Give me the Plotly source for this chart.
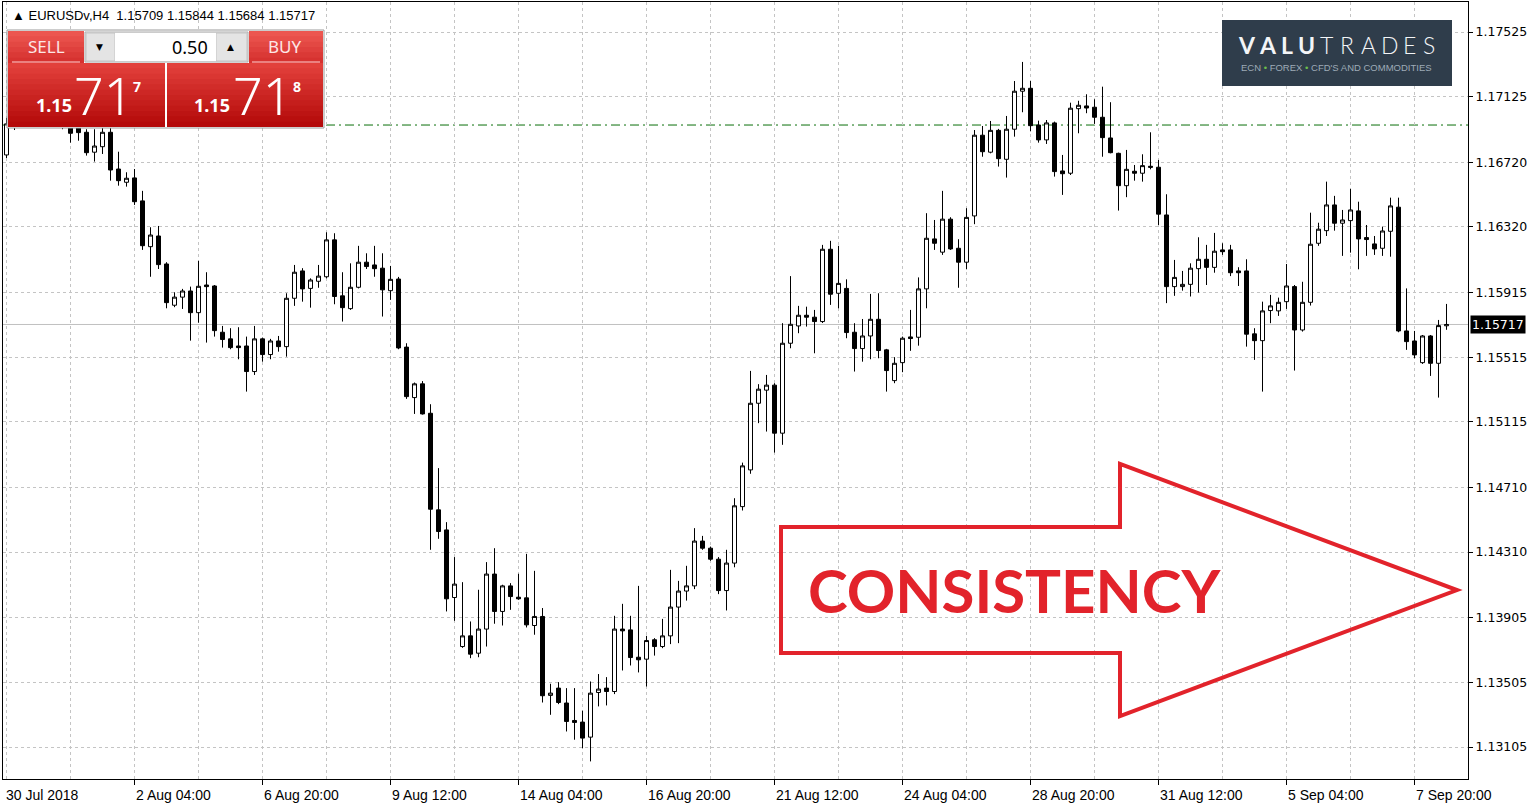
import plotly.graph_objects as go

# ---------------- data ----------------
bar_index = list(range(181))

opens = [1.16765, 1.16957, 1.17105, 1.17136, 1.17080, 1.17117, 1.17055, 1.16994, 1.16969, 1.16932,
         1.16905, 1.16782, 1.16816, 1.16905, 1.16678, 1.16596, 1.16623, 1.16481, 1.16198, 1.16264,
         1.16091, 1.15836, 1.15886, 1.15924, 1.15790, 1.15961, 1.15955, 1.15669, 1.15628, 1.15584,
         1.15584, 1.15426, 1.15628, 1.15531, 1.15615, 1.15580, 1.15879, 1.16048, 1.15940, 1.15984,
         1.16012, 1.16240, 1.15894, 1.15815, 1.15947, 1.16102, 1.16085, 1.16065, 1.15926, 1.15998,
         1.15577, 1.15265, 1.15350, 1.15168, 1.14571, 1.14447, 1.14029, 1.13726, 1.13792, 1.13685,
         1.13834, 1.14174, 1.13943, 1.14101, 1.14031, 1.14027, 1.13856, 1.13912, 1.13424, 1.13469,
         1.13377, 1.13269, 1.13259, 1.13166, 1.13442, 1.13469, 1.13448, 1.13834, 1.13829, 1.13660,
         1.13648, 1.13768, 1.13726, 1.13792, 1.13970, 1.14069, 1.14101, 1.14378, 1.14334, 1.14266,
         1.14072, 1.14242, 1.14591, 1.14818, 1.15230, 1.15311, 1.15342, 1.15045, 1.15601, 1.15708,
         1.15774, 1.15762, 1.15735, 1.16182, 1.15910, 1.15940, 1.15669, 1.15568, 1.15646, 1.15749,
         1.15560, 1.15370, 1.15481, 1.15640, 1.15638, 1.15937, 1.16246, 1.16164, 1.16368, 1.16188,
         1.16102, 1.16388, 1.16887, 1.16782, 1.16917, 1.16738, 1.16924, 1.17159, 1.17177, 1.16950,
         1.16858, 1.16963, 1.16666, 1.16652, 1.17051, 1.17068, 1.17060, 1.16998, 1.16870, 1.16775,
         1.16575, 1.16664, 1.16652, 1.16695, 1.16689, 1.16394, 1.15951, 1.15951, 1.15965, 1.16062,
         1.16120, 1.16070, 1.16178, 1.16178, 1.16048, 1.16048, 1.15659, 1.15617, 1.15803, 1.15801,
         1.15858, 1.15951, 1.15683, 1.15854, 1.16219, 1.16297, 1.16456, 1.16343, 1.16359, 1.16419,
         1.16254, 1.16215, 1.16188, 1.16293, 1.16442, 1.15677, 1.15615, 1.15481, 1.15646, 1.15477,
         1.15709]

highs = [1.16994, 1.17080, 1.17179, 1.17198, 1.17154, 1.17167, 1.17130, 1.17074, 1.17012, 1.16957,
         1.16924, 1.16924, 1.16938, 1.16932, 1.16785, 1.16658, 1.16678, 1.16543, 1.16318, 1.16326,
         1.16102, 1.15916, 1.15937, 1.15951, 1.16110, 1.16040, 1.15961, 1.15708, 1.15694, 1.15700,
         1.15642, 1.15708, 1.15636, 1.15628, 1.15646, 1.15910, 1.16085, 1.16065, 1.16002, 1.16085,
         1.16287, 1.16281, 1.16040, 1.16095, 1.16203, 1.16157, 1.16203, 1.16157, 1.16079, 1.16011,
         1.15601, 1.15358, 1.15367, 1.15224, 1.14829, 1.14495, 1.14279, 1.14124, 1.13881, 1.14077,
         1.14248, 1.14334, 1.14108, 1.14118, 1.14176, 1.14299, 1.14194, 1.13964, 1.13496, 1.13506,
         1.13469, 1.13469, 1.13329, 1.13510, 1.13556, 1.13537, 1.13916, 1.13990, 1.13916, 1.14101,
         1.13792, 1.13778, 1.13897, 1.14200, 1.14132, 1.14225, 1.14458, 1.14410, 1.14344, 1.14279,
         1.14324, 1.14643, 1.14863, 1.15430, 1.15348, 1.15405, 1.15354, 1.15725, 1.16016, 1.15832,
         1.15827, 1.15807, 1.16209, 1.16234, 1.16203, 1.15996, 1.15725, 1.15751, 1.15906, 1.15910,
         1.15566, 1.15515, 1.15642, 1.15807, 1.16008, 1.16405, 1.16363, 1.16543, 1.16380, 1.16244,
         1.16436, 1.16919, 1.16944, 1.16975, 1.16926, 1.17006, 1.17222, 1.17340, 1.17222, 1.16977,
         1.16981, 1.16971, 1.16765, 1.17088, 1.17100, 1.17140, 1.17109, 1.17187, 1.17091, 1.16779,
         1.16796, 1.16703, 1.16769, 1.16905, 1.16734, 1.16522, 1.16116, 1.16048, 1.16095, 1.16256,
         1.16209, 1.16283, 1.16219, 1.16209, 1.16071, 1.16120, 1.15694, 1.15858, 1.15900, 1.15883,
         1.16091, 1.15961, 1.15981, 1.16408, 1.16346, 1.16600, 1.16512, 1.16425, 1.16555, 1.16476,
         1.16332, 1.16264, 1.16322, 1.16501, 1.16501, 1.15940, 1.15677, 1.15652, 1.15652, 1.15745,
         1.15844]

lows = [1.16746, 1.16919, 1.17043, 1.17055, 1.17012, 1.17031, 1.16969, 1.16924, 1.16841, 1.16853,
        1.16761, 1.16724, 1.16771, 1.16606, 1.16575, 1.16569, 1.16456, 1.16178, 1.16012, 1.16060,
        1.15817, 1.15824, 1.15813, 1.15617, 1.15728, 1.15605, 1.15642, 1.15574, 1.15564, 1.15502,
        1.15302, 1.15405, 1.15487, 1.15502, 1.15549, 1.15518, 1.15832, 1.15858, 1.15821, 1.15944,
        1.16002, 1.15842, 1.15735, 1.15807, 1.15940, 1.16060, 1.16012, 1.15766, 1.15869, 1.15564,
        1.15257, 1.15164, 1.15160, 1.14324, 1.14392, 1.13943, 1.13885, 1.13718, 1.13654, 1.13660,
        1.13726, 1.13867, 1.13856, 1.13953, 1.14015, 1.13844, 1.13799, 1.13380, 1.13304, 1.13370,
        1.13201, 1.13150, 1.13098, 1.13016, 1.13356, 1.13362, 1.13432, 1.13578, 1.13609, 1.13566,
        1.13479, 1.13670, 1.13716, 1.13741, 1.13747, 1.14010, 1.14081, 1.14324, 1.14256, 1.14050,
        1.13949, 1.14216, 1.14567, 1.14794, 1.15107, 1.15055, 1.14925, 1.14973, 1.15570, 1.15663,
        1.15704, 1.15539, 1.15726, 1.15838, 1.15817, 1.15632, 1.15426, 1.15487, 1.15502, 1.15508,
        1.15302, 1.15354, 1.15422, 1.15554, 1.15586, 1.15817, 1.16178, 1.16147, 1.16178, 1.15944,
        1.16058, 1.16337, 1.16754, 1.16775, 1.16693, 1.16625, 1.16878, 1.17029, 1.16911, 1.16841,
        1.16833, 1.16631, 1.16518, 1.16641, 1.16899, 1.17023, 1.16957, 1.16754, 1.16775, 1.16421,
        1.16504, 1.16606, 1.16600, 1.16676, 1.16332, 1.15849, 1.15894, 1.15926, 1.15890, 1.15914,
        1.15961, 1.16037, 1.16147, 1.16016, 1.15955, 1.15580, 1.15498, 1.15302, 1.15725, 1.15770,
        1.15813, 1.15432, 1.15673, 1.15834, 1.16203, 1.16264, 1.16297, 1.16141, 1.16161, 1.16058,
        1.16141, 1.16147, 1.16141, 1.16136, 1.15669, 1.15560, 1.15508, 1.15473, 1.15399, 1.15265,
        1.15684]

closes = [1.16957, 1.17043, 1.17136, 1.17080, 1.17117, 1.17055, 1.16994, 1.16969, 1.16899, 1.16903,
          1.16779, 1.16820, 1.16905, 1.16672, 1.16606, 1.16621, 1.16476, 1.16204, 1.16270, 1.16087,
          1.15852, 1.15886, 1.15924, 1.15790, 1.15953, 1.15951, 1.15679, 1.15624, 1.15574, 1.15574,
          1.15426, 1.15628, 1.15531, 1.15615, 1.15580, 1.15879, 1.16040, 1.15937, 1.15992, 1.16016,
          1.16240, 1.15890, 1.15821, 1.15947, 1.16102, 1.16075, 1.16062, 1.15931, 1.15996, 1.15572,
          1.15271, 1.15350, 1.15164, 1.14575, 1.14437, 1.14021, 1.14112, 1.13792, 1.13679, 1.13834,
          1.14174, 1.13943, 1.14101, 1.14035, 1.14021, 1.13860, 1.13912, 1.13422, 1.13438, 1.13380,
          1.13263, 1.13257, 1.13160, 1.13438, 1.13463, 1.13448, 1.13834, 1.13823, 1.13658, 1.13644,
          1.13763, 1.13726, 1.13792, 1.13970, 1.14069, 1.14101, 1.14378, 1.14334, 1.14266, 1.14072,
          1.14242, 1.14596, 1.14843, 1.15230, 1.15317, 1.15342, 1.15045, 1.15601, 1.15718, 1.15774,
          1.15762, 1.15735, 1.16182, 1.15904, 1.15971, 1.15667, 1.15568, 1.15646, 1.15749, 1.15556,
          1.15432, 1.15477, 1.15632, 1.15630, 1.15937, 1.16250, 1.16219, 1.16368, 1.16184, 1.16102,
          1.16379, 1.16887, 1.16785, 1.16917, 1.16742, 1.16924, 1.17159, 1.17177, 1.16946, 1.16858,
          1.16963, 1.16662, 1.16649, 1.17054, 1.17072, 1.17055, 1.16998, 1.16872, 1.16779, 1.16575,
          1.16676, 1.16652, 1.16699, 1.16689, 1.16399, 1.15951, 1.16008, 1.15965, 1.16065, 1.16120,
          1.16070, 1.16170, 1.16167, 1.16037, 1.16037, 1.15657, 1.15617, 1.15801, 1.15832, 1.15854,
          1.15955, 1.15683, 1.15854, 1.16213, 1.16306, 1.16456, 1.16343, 1.16363, 1.16425, 1.16246,
          1.16242, 1.16184, 1.16295, 1.16450, 1.15677, 1.15611, 1.15529, 1.15646, 1.15477, 1.15710,
          1.15717]

date_tick_index = [16, 32, 48, 64, 80, 96, 112, 128, 144, 160, 176]
date_tick_text = ["2 Aug 04:00", "6 Aug 20:00", "9 Aug 12:00", "14 Aug 04:00",
                  "16 Aug 20:00", "21 Aug 12:00", "24 Aug 04:00", "28 Aug 20:00",
                  "31 Aug 12:00", "5 Sep 04:00", "7 Sep 20:00"]
first_date_label = "30 Jul 2018"
grid_index = list(range(0, 181, 8))

price_ticks = [1.17525, 1.17125, 1.16720, 1.16320, 1.15915, 1.15515,
               1.15115, 1.14710, 1.14310, 1.13905, 1.13505, 1.13105]
current_price = 1.15717
level_price = 1.16950

header_text = "EURUSDv,H4  1.15709 1.15844 1.15684 1.15717"
lot_text = "0.50"
sell_quote = ("1.15", "71", "7")
buy_quote = ("1.15", "71", "8")
logo_letters = "VALUTRADES"
logo_sub = "ECN <span style='color:#6cbf4a'>•</span> FOREX <span style='color:#6cbf4a'>•</span> CFD'S AND COMMODITIES"
banner_text = "CONSISTENCY"

# ---------------- geometry helpers ----------------
W, H = 1537, 807
ML, MR, MT, MB = 3, 69, 2, 28
PW = W - ML - MR
PH = H - MT - MB
X_OFF = 0.0625  # half-pixel shift so 1px wicks render crisp


def fx(x):
    return (x - ML) / PW


def fy(y):
    return (H - MB - y) / PH


fig = go.Figure()
fig.add_trace(go.Candlestick(
    x=bar_index, open=opens, high=highs, low=lows, close=closes,
    increasing=dict(line=dict(color="black", width=1), fillcolor="white"),
    decreasing=dict(line=dict(color="black", width=1), fillcolor="black"),
    whiskerwidth=0, hoverinfo="skip", showlegend=False,
))

shapes = []
annos = []

# price lines
shapes.append(dict(type="line", xref="paper", x0=0, x1=1, yref="y", y0=current_price, y1=current_price,
                   line=dict(color="#c0c0c0", width=1), layer="below"))
shapes.append(dict(type="line", xref="paper", x0=0, x1=1, yref="y", y0=level_price, y1=level_price,
                   line=dict(color="#0a6e0a", width=1, dash="9px,4px,2px,4px"), layer="below"))


def rect(x0, y0, x1, y1, fill, line=None, lw=0):
    shapes.append(dict(type="rect", xref="paper", yref="paper",
                       x0=fx(x0), x1=fx(x1), y0=fy(y1), y1=fy(y0),
                       fillcolor=fill, line=dict(color=line or fill, width=lw), layer="above"))


def hexrgb(c):
    c = c.lstrip("#")
    return [int(c[i:i + 2], 16) for i in (0, 2, 4)]


def grad(x0, y0, x1, y1, ctop, cbot, n=10):
    a, b = hexrgb(ctop), hexrgb(cbot)
    for k in range(n):
        t = k / (n - 1)
        col = "rgb(%d,%d,%d)" % tuple(round(a[j] + (b[j] - a[j]) * t) for j in range(3))
        ya = y0 + (y1 - y0) * k / n
        yb = y0 + (y1 - y0) * (k + 1) / n + 0.6
        rect(x0, ya, x1, min(yb, y1), col)


def text(x, y, s, size, color="black", family="Liberation Sans", xanchor="center", weight="normal"):
    annos.append(dict(xref="paper", yref="paper", x=fx(x), y=fy(y), text=s, showarrow=False,
                      xanchor=xanchor, yanchor="middle",
                      font=dict(family=family, size=size, color=color, weight=weight)))


# ---- trading panel ----
rect(7, 30, 324, 128, "#ffffff", "#9a9a9a", 1)
grad(8, 31, 84, 63, "#ec5650", "#d63230", 6)
grad(249, 31, 323, 63, "#ec5650", "#d63230", 6)
grad(8, 63, 165, 127, "#e2403b", "#b40a0a", 12)
grad(167, 63, 323, 127, "#e2403b", "#b40a0a", 12)
shapes.append(dict(type="line", xref="paper", yref="paper", x0=fx(12), x1=fx(80), y0=fy(62), y1=fy(62),
                   line=dict(color="#ffd0d0", width=1), layer="above"))
shapes.append(dict(type="line", xref="paper", yref="paper", x0=fx(252), x1=fx(320), y0=fy(62), y1=fy(62),
                   line=dict(color="#ffd0d0", width=1), layer="above"))
rect(85, 32, 248, 62, "#f0f0f0", "#a8a8a8", 1)
rect(86, 33, 115, 61, "#e4e4e4", "#c4c4c4", 1)
rect(216, 33, 247, 61, "#e4e4e4", "#c4c4c4", 1)
rect(115, 33, 216, 61, "#ffffff")
text(100, 47, "▼", 9, "black", "DejaVu Sans")
text(231, 47, "▲", 9, "black", "DejaVu Sans")
text(210, 47, lot_text, 18, "black", "Noto Sans", xanchor="right")
text(46, 47, "SELL", 17, "#fde6e6", "Noto Sans")
text(284, 47, "BUY", 17, "#fde6e6", "Noto Sans")
for (xa, xb, xc), q in (((54, 103, 137), sell_quote), ((212, 262, 297), buy_quote)):
    text(xa, 105, q[0], 18, "white", "Noto Sans", weight="bold")
    text(xb, 95, q[1], 52, "white", "Noto Sans", weight=300)
    text(xc, 86, q[2], 14, "white", "Noto Sans", weight="bold")

# header
text(10, 15, "▲ " + header_text, 13, "black", "Liberation Sans", xanchor="left")

# ---- logo ----
rect(1222, 20, 1452, 86, "#2f3d4b")
letter_x = [1247, 1268, 1287, 1306, 1326, 1347, 1368, 1389, 1409, 1429]
for k, ch in enumerate(logo_letters):
    text(letter_x[k], 45, ch, 23, "#f3f5f7", "Lato", weight="bold" if k < 4 else 300)
text(1336, 67, logo_sub, 9.5, "#9eabb7", "Liberation Sans")

# ---- arrow ----
arrow_pts = [(781, 527), (1120, 527), (1120, 464), (1457, 590), (1120, 716), (1120, 653), (781, 653)]
path = "M " + " L ".join("%.5f,%.5f" % (fx(a), fy(b)) for a, b in arrow_pts) + " Z"
shapes.append(dict(type="path", xref="paper", yref="paper", path=path,
                   line=dict(color="#e2232b", width=4), fillcolor="rgba(0,0,0,0)", layer="above"))
text(1015, 590, banner_text, 60, "#e2232b", "Lato", weight="bold")

# ---- axis date labels ----
annos.append(dict(xref="paper", yref="paper", x=0, y=0, yshift=-6, xshift=1, text=first_date_label,
                  showarrow=False, xanchor="left", yanchor="top",
                  font=dict(family="Liberation Sans", size=14, color="black")))
for idx, lab in zip(date_tick_index, date_tick_text):
    annos.append(dict(xref="x", yref="paper", x=idx, y=0, yshift=-6, xshift=-1, text=lab,
                      showarrow=False, xanchor="left", yanchor="top",
                      font=dict(family="Liberation Sans", size=14, color="black")))

# current price tag
annos.append(dict(xref="paper", yref="y", x=1, y=current_price, xshift=2, text="%.5f" % current_price,
                  showarrow=False, xanchor="left", yanchor="middle", bgcolor="black", borderpad=1,
                  font=dict(family="DejaVu Sans", size=12.5, color="white")))

grid_style = dict(gridcolor="#c4c4c4", gridwidth=1, griddash="3px,3px")

fig.update_layout(
    width=W, height=H,
    margin=dict(l=ML, r=MR, t=MT, b=MB, pad=0),
    paper_bgcolor="white", plot_bgcolor="white",
    showlegend=False, hovermode=False,
    boxgap=0.5, boxgroupgap=0,
    shapes=shapes, annotations=annos,
    xaxis=dict(range=[-0.375 - X_OFF, 182.75 - X_OFF], rangeslider=dict(visible=False),
               tickvals=date_tick_index, showticklabels=False,
               ticks="outside", ticklen=5, tickcolor="black",
               showgrid=True, **grid_style,
               minor=dict(tickvals=grid_index, showgrid=True, **grid_style),
               showline=True, mirror=True, linecolor="black", linewidth=1, zeroline=False),
    yaxis=dict(range=[1.1290718, 1.1771046], side="right",
               tickvals=price_ticks, ticktext=["%.5f" % v for v in price_ticks],
               tickfont=dict(family="DejaVu Sans", size=12.5, color="black"),
               ticks="outside", ticklen=4, tickcolor="black",
               showgrid=True, **grid_style,
               showline=True, mirror=True, linecolor="black", linewidth=1, zeroline=False),
)

fig.write_html("out.html", config={"displayModeBar": False},
               post_script="document.body.style.margin='0px';document.body.style.overflow='hidden';")
